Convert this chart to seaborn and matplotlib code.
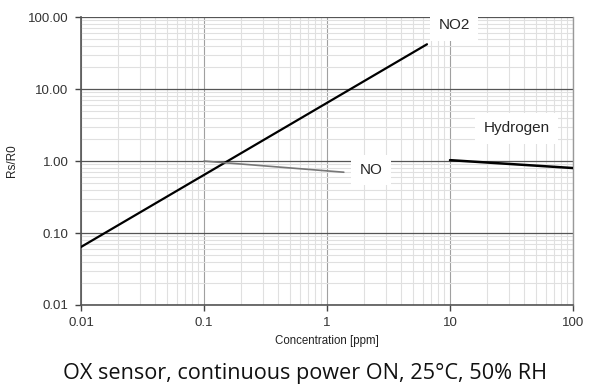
import numpy as np
import pandas as pd
import matplotlib
matplotlib.use("Agg")
import matplotlib.pyplot as plt
import seaborn as sns
from matplotlib.ticker import LogLocator, FixedLocator, NullFormatter

# (log-log, straight lines)
no2_ppm = [0.01, 6.5]
no2_ratio = [0.064, 42.0]
no_ppm = [0.1, 1.37]
no_ratio = [1.0, 0.70]
h2_ppm = [10, 100]
h2_ratio = [1.03, 0.80]

x_ticks = [0.01, 0.1, 1, 10, 100]
x_labels = ["0.01", "0.1", "1", "10", "100"]
y_ticks = [0.01, 0.1, 1, 10, 100]
y_labels = ["0.01", "0.10", "1.00", "10.00", "100.00"]

sns.set_style("white")
plt.rcParams["font.family"] = ["Liberation Sans", "DejaVu Sans"]

fig = plt.figure(figsize=(6, 3.9), dpi=100)
ax = fig.add_axes([0.135, 0.218, 0.82, 0.738])

df_no2 = pd.DataFrame({"c": no2_ppm, "r": no2_ratio})
df_no = pd.DataFrame({"c": no_ppm, "r": no_ratio})
df_h2 = pd.DataFrame({"c": h2_ppm, "r": h2_ratio})

sns.lineplot(data=df_no2, x="c", y="r", ax=ax, color="black", lw=1.6, zorder=5)
sns.lineplot(data=df_no, x="c", y="r", ax=ax, color="#777777", lw=1.2, zorder=5)
sns.lineplot(data=df_h2, x="c", y="r", ax=ax, color="black", lw=1.8, zorder=5)

ax.set_xscale("log")
ax.set_yscale("log")
ax.set_xlim(0.01, 100)
ax.set_ylim(0.01, 100)

ax.xaxis.set_major_locator(FixedLocator(x_ticks))
ax.set_xticklabels(x_labels)
ax.yaxis.set_major_locator(FixedLocator(y_ticks))
ax.set_yticklabels(y_labels)
ax.xaxis.set_minor_locator(LogLocator(base=10, subs=np.arange(2, 10)))
ax.yaxis.set_minor_locator(LogLocator(base=10, subs=np.arange(2, 10)))
ax.xaxis.set_minor_formatter(NullFormatter())
ax.yaxis.set_minor_formatter(NullFormatter())

ax.grid(which="major", axis="y", color="#555555", lw=0.9)
ax.grid(which="major", axis="x", color="#a0a0a0", lw=0.8)
ax.grid(which="minor", color="#e0e0e0", lw=0.8)
ax.set_axisbelow(True)

ax.tick_params(which="major", direction="out", length=4, width=1, color="#444444",
               labelsize=9.5, labelcolor="#333333", left=True, bottom=True, pad=5)
ax.tick_params(which="minor", length=0)

for side in ["left", "bottom"]:
    ax.spines[side].set_color("#555555")
    ax.spines[side].set_linewidth(1.2)
ax.spines["right"].set_color("#999999")
ax.spines["right"].set_linewidth(1.0)
ax.spines["top"].set_visible(False)

ax.set_xlabel("Concentration [ppm]", fontsize=8.3, color="#222222", labelpad=4)
ax.set_ylabel("Rs/R0", fontsize=8.5, color="#222222")
ax.yaxis.set_label_coords(-0.128, 0.5)

box = dict(facecolor="white", edgecolor="none", pad=6)
ax.text(10.8, 77, "NO2", fontsize=11, ha="center", va="center", bbox=box, zorder=6,
        clip_on=False)
ax.text(2.28, 0.75, "NO", fontsize=11, ha="center", va="center", bbox=box, zorder=6)
ax.text(35, 2.87, "Hydrogen", fontsize=11, ha="center", va="center", bbox=box, zorder=6)

fig.text(0.508, 0.043, "OX sensor, continuous power ON, 25°C, 50% RH",
         fontsize=15.6, ha="center", va="center", color="#111111",
         family=["Open Sans", "DejaVu Sans"])

fig.savefig("out.png", dpi=100, facecolor="white")
